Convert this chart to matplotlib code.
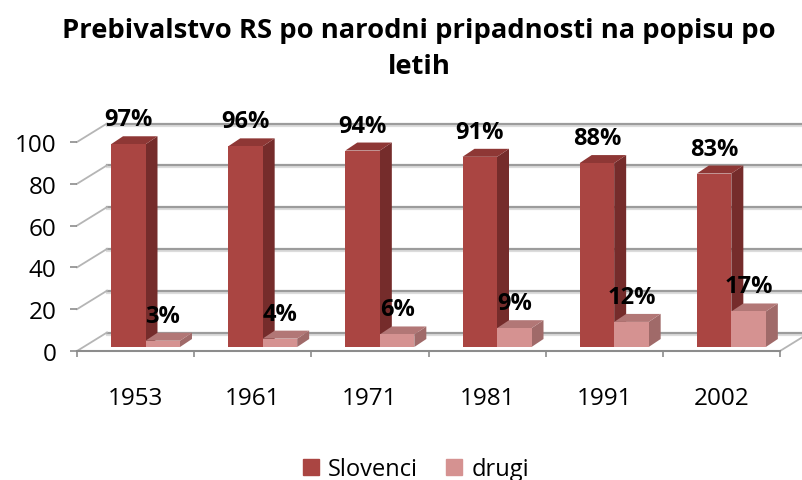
import numpy as np
import matplotlib.pyplot as plt
from matplotlib.patches import Polygon, Patch
from matplotlib.transforms import ScaledTranslation

# data
years = ["1953", "1961", "1971", "1981", "1991", "2002"]
slovenci = [97, 96, 94, 91, 88, 83]
drugi = [3, 4, 6, 9, 12, 17]
series_names = ["Slovenci", "drugi"]
yticks = [0, 20, 40, 60, 80, 100]
title = "Prebivalstvo RS po narodni pripadnosti na popisu po\nletih"

# colours: front / side / top
cols = {
    "Slovenci": ("#AA4542", "#752C2B", "#8E3735"),
    "drugi": ("#D59291", "#A06A69", "#B27776"),
}

plt.rcParams["font.family"] = ["Open Sans", "DejaVu Sans"]

W, H = 802, 481
fig = plt.figure(figsize=(W / 100, H / 100), dpi=100)

# axes = front plane of the pseudo 3D box (pixel positions)
X0, X1, YT, YB = 77, 780, 143, 352
ax = fig.add_axes([X0 / W, 1 - YB / H, (X1 - X0) / W, (YB - YT) / H])
n = len(years)
ax.set_xlim(0, n)
ax.set_ylim(0, 100)
for s in ["top", "right", "left"]:
    ax.spines[s].set_visible(False)
ax.spines["bottom"].set_color("#8c8c8c")
ax.spines["bottom"].set_linewidth(1.5)

px = n / (X1 - X0)      # categories per pixel
py = 100 / (YB - YT)    # values per pixel

# back wall + side wall gridlines
wdx, wdy = 30 * px, 18.5 * py
shadow = ax.transData + ScaledTranslation(0, -2 / 100, fig.dpi_scale_trans)
for v in yticks:
    ax.plot([wdx, n + 1], [v + wdy, v + wdy], color="#dcdcdc", lw=1.6,
            clip_on=False, zorder=1, transform=shadow)
    ax.plot([wdx, n + 1], [v + wdy, v + wdy], color="#9c9c9c", lw=1.6,
            clip_on=False, zorder=1)
    ax.plot([0, wdx], [v, v + wdy], color="#b5b5b5", lw=1.3, clip_on=False, zorder=1)
ax.plot([n, n + wdx], [0, wdy], color="#b5b5b5", lw=1.3, clip_on=False, zorder=1)

# bars
off = 34 * px
bw = 34.5 * px
base = 4 * py
ddx, ddy = 12 * px, 8 * py
z = 3
for i in range(n):
    for k, (name, vals) in enumerate(zip(series_names, [slovenci, drugi])):
        v = vals[i]
        front, side, top = cols[name]
        l = i + off + k * bw
        t = base + v
        ax.add_patch(Polygon([(l + bw, base), (l + bw + ddx, base + ddy),
                              (l + bw + ddx, t + ddy), (l + bw, t)],
                             closed=True, fc=side, ec="none", zorder=z, clip_on=False))
        ax.add_patch(Polygon([(l, t), (l + ddx, t + ddy), (l + bw + ddx, t + ddy),
                              (l + bw, t)],
                             closed=True, fc=top, ec="none", zorder=z, clip_on=False))
        ax.bar(l, v, width=bw, bottom=base, align="edge", color=front,
               zorder=z, clip_on=False)
        ax.annotate(f"{v}%", (l + bw / 2, t + ddy), xytext=(0, 17),
                    textcoords="offset pixels", ha="center", va="center",
                    fontsize=17, fontweight="bold", zorder=100,
                    annotation_clip=False)
        z += 1

# ticks
ax.set_yticks(yticks)
ax.tick_params(axis="y", length=5, width=1.2, color="#8c8c8c", pad=10, labelsize=17.5)
ax.set_xticks(range(n + 1))
ax.set_xticklabels([])
ax.tick_params(axis="x", which="major", length=4.5, width=1.2, color="#8c8c8c")
ax.set_xticks(np.arange(n) + 0.5, minor=True)
ax.set_xticklabels(years, minor=True)
ax.tick_params(axis="x", which="minor", length=0, pad=25, labelsize=17.5)

fig.text(419 / W, 1 - 49 / H, title, ha="center", va="center",
         fontsize=19.7, fontweight="bold", linespacing=1.5)

handles = [Patch(color=cols[s][0]) for s in series_names]
fig.legend(handles, series_names, loc="center", bbox_to_anchor=(416 / W, 1 - 470 / H),
           ncol=2, frameon=False, fontsize=17, handlelength=0.65, handleheight=0.65,
           handletextpad=0.4, columnspacing=1.2)

fig.savefig("out.png", dpi=100)
